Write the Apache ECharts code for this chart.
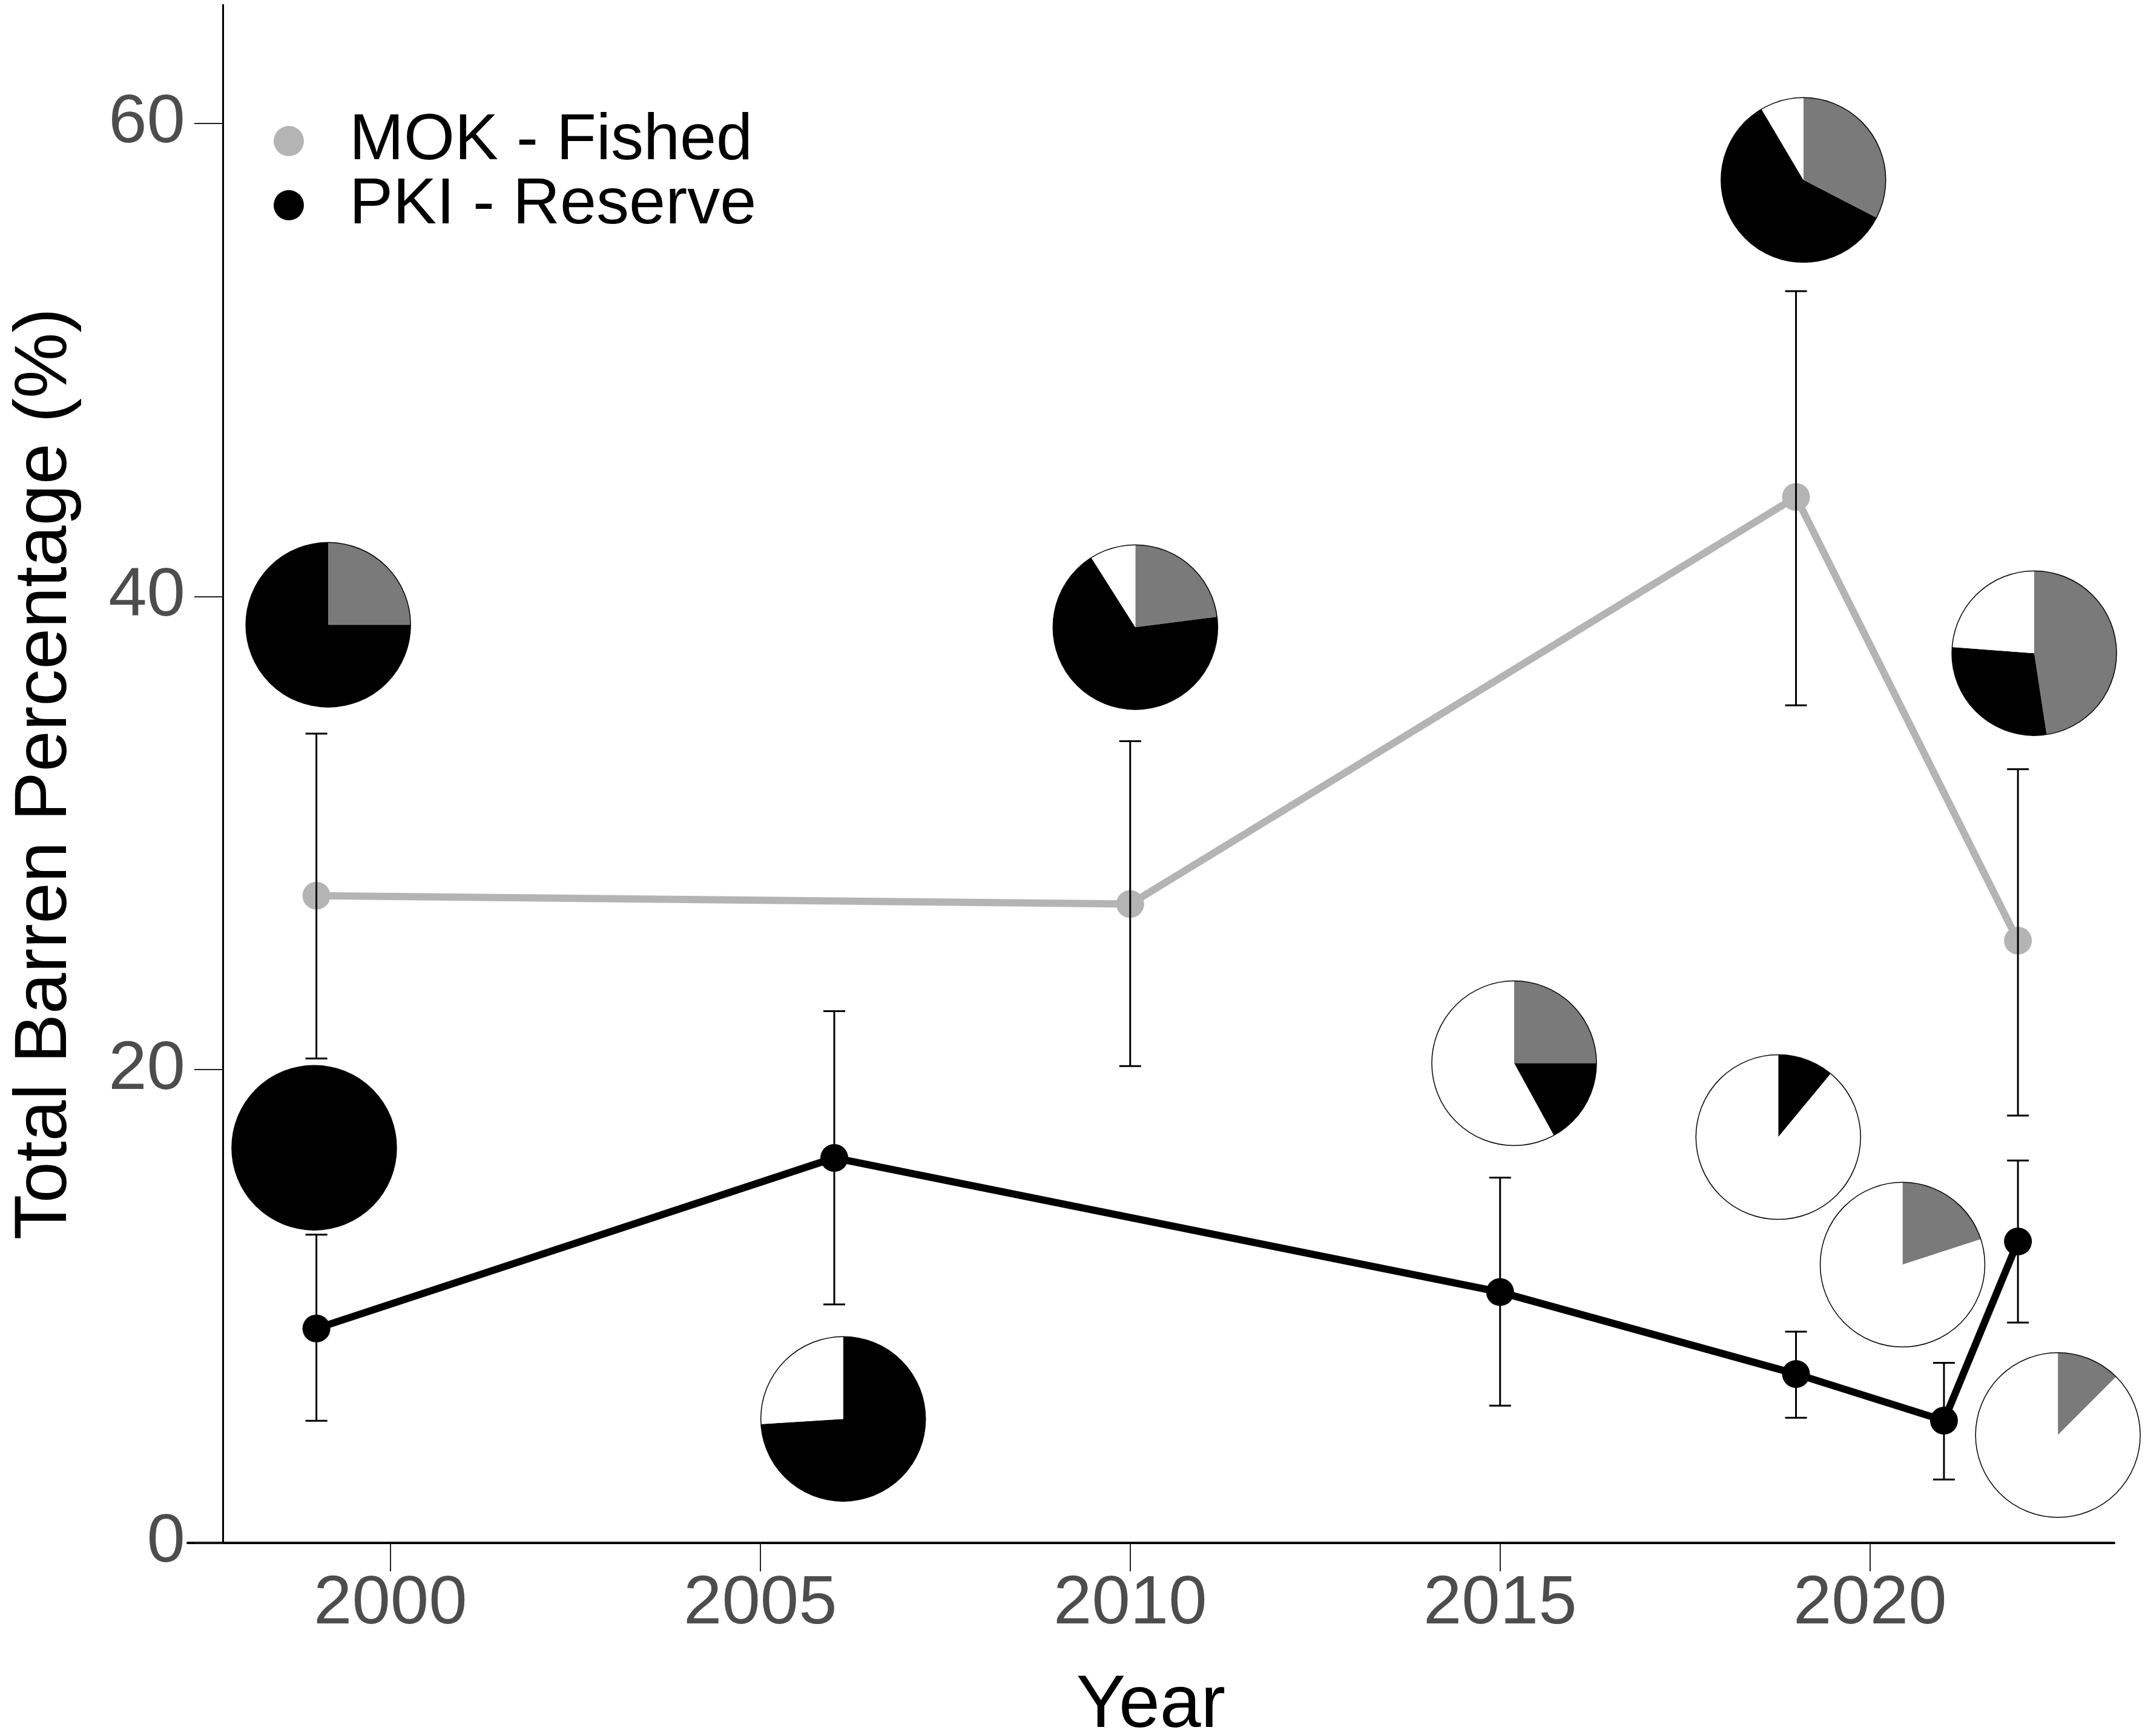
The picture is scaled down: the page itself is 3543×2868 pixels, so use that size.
<!DOCTYPE html>
<html lang="en">
<head>
    <meta charset="UTF-8">
    <title>Total Barren Percentage</title>
    <style>
        body {
            margin: 0;
            background: #fff;
        }
        #chart {
            width: 3543px;
            height: 2868px;
        }
    </style>
</head>
<body>
    <div id="chart"></div>
    <script src="https://cdn.jsdelivr.net/npm/echarts@6/dist/echarts.min.js"></script>
    <script>
        // line points (year, mean) and their error bars
        const mokYears = [1999, 2010, 2019, 2022];
        const mokMean = [27.35, 27.0, 44.2, 25.45];
        const mokLow = [20.47, 20.15, 35.4, 18.06];
        const mokHigh = [34.2, 33.88, 52.9, 32.7];

        const pkiYears = [1999, 2006, 2015, 2019, 2021, 2022];
        const pkiMean = [9.06, 16.27, 10.6, 7.14, 5.17, 12.74];
        const pkiLow = [5.16, 10.08, 5.8, 5.29, 2.68, 9.31];
        const pkiHigh = [13.03, 22.47, 15.44, 8.93, 7.61, 16.16];

        // pie glyphs: where they sit and their shares (gray / black / white, %)
        const pieYear = [1999.16, 1998.97, 2006.12, 2010.07, 2015.19, 2019.10, 2018.76, 2020.44, 2022.22, 2022.54];
        const pieValue = [38.8, 16.7, 5.24, 38.7, 20.27, 57.6, 17.15, 11.76, 37.6, 4.56];
        const pieGray = [25, 0, 0, 23, 25, 32.6, 0, 20, 47.6, 12.5];
        const pieBlack = [75, 100, 74, 68, 17, 58.9, 11, 0, 28.6, 0];
        const pieWhite = [0, 0, 26, 9, 58, 8.5, 89, 80, 23.8, 87.5];

        const xTicks = [2000, 2005, 2010, 2015, 2020];
        const yTicks = [0, 20, 40, 60];

        const FONT = "'Liberation Sans', Arial, sans-serif";
        const MOK_COLOR = '#b4b4b4';
        const PIE_GRAY = '#7a7a7a';
        const PIE_R = 136;

        function renderErr(params, api) {
            const x = api.value(0);
            const lo = api.coord([x, api.value(1)]);
            const hi = api.coord([x, api.value(2)]);
            const w = 18;
            const st = { stroke: '#000', lineWidth: 3 };
            return {
                type: 'group',
                children: [
                    { type: 'line', shape: { x1: lo[0], y1: lo[1], x2: hi[0], y2: hi[1] }, style: st },
                    { type: 'line', shape: { x1: lo[0] - w, y1: lo[1], x2: lo[0] + w, y2: lo[1] }, style: st },
                    { type: 'line', shape: { x1: hi[0] - w, y1: hi[1], x2: hi[0] + w, y2: hi[1] }, style: st },
                ],
            };
        }

        function renderPie(params, api) {
            const c = api.coord([api.value(0), api.value(1)]);
            const shares = [api.value(2), api.value(3), api.value(4)];
            const colors = [PIE_GRAY, '#000', '#fff'];
            const total = shares[0] + shares[1] + shares[2];
            const children = [];
            let acc = 0;
            shares.forEach((s, i) => {
                if (s <= 0) return;
                const a0 = -Math.PI / 2 + 2 * Math.PI * acc / total;
                acc += s;
                const a1 = -Math.PI / 2 + 2 * Math.PI * acc / total;
                children.push({
                    type: 'sector',
                    shape: { cx: c[0], cy: c[1], r: PIE_R, r0: 0, startAngle: a0, endAngle: a1, clockwise: true },
                    style: { fill: colors[i] },
                });
            });
            children.push({
                type: 'circle',
                shape: { cx: c[0], cy: c[1], r: PIE_R },
                style: { fill: 'none', stroke: '#000', lineWidth: 1.5 },
            });
            return { type: 'group', children };
        }

        const chart = echarts.init(document.getElementById('chart'));
        chart.setOption({
            animation: false,
            backgroundColor: '#fff',
            textStyle: { fontFamily: FONT },
            grid: { left: 310, right: 51, top: 8, bottom: 319, outerBoundsMode: 'none', containLabel: false },
            legend: {
                orient: 'vertical',
                left: 447,
                top: 174,
                icon: 'circle',
                itemWidth: 190,
                itemHeight: 50,
                itemGap: -2,
                textStyle: { fontSize: 108, color: '#000', fontFamily: FONT, lineHeight: 60 },
                data: ['MOK - Fished', 'PKI - Reserve'],
            },
            xAxis: {
                type: 'value',
                min: 1997.26,
                max: 2023.3,
                name: 'Year',
                nameLocation: 'middle',
                nameGap: 209,
                nameTextStyle: { fontSize: 122, color: '#000', fontFamily: FONT },
                axisLine: { lineStyle: { color: '#000', width: 4 } },
                axisTick: { show: true, length: 47, customValues: xTicks, lineStyle: { color: '#222', width: 2 } },
                axisLabel: {
                    customValues: xTicks,
                    formatter: v => String(v),
                    fontSize: 114,
                    color: '#4d4d4d',
                    margin: 45,
                    fontFamily: FONT,
                },
                splitLine: { show: false },
            },
            yAxis: {
                type: 'value',
                min: 0,
                max: 65,
                offset: -58,
                name: 'Total Barren Percentage (%)',
                nameLocation: 'middle',
                nameGap: 232,
                nameTextStyle: { fontSize: 122, color: '#000', fontFamily: FONT },
                axisLine: { show: true, lineStyle: { color: '#000', width: 3 } },
                axisTick: { show: true, length: 47, customValues: yTicks, lineStyle: { color: '#222', width: 2 } },
                axisLabel: { customValues: yTicks, fontSize: 114, color: '#4d4d4d', margin: 62, fontFamily: FONT },
                splitLine: { show: false },
            },
            series: [
                {
                    name: 'MOK - Fished',
                    type: 'line',
                    data: mokYears.map((y, i) => [y, mokMean[i]]),
                    symbol: 'circle',
                    symbolSize: 46,
                    itemStyle: { color: MOK_COLOR },
                    lineStyle: { color: MOK_COLOR, width: 12 },
                    z: 2,
                },
                {
                    name: 'PKI - Reserve',
                    type: 'line',
                    data: pkiYears.map((y, i) => [y, pkiMean[i]]),
                    symbol: 'circle',
                    symbolSize: 46,
                    itemStyle: { color: '#000' },
                    lineStyle: { color: '#000', width: 12 },
                    z: 2,
                },
                {
                    type: 'custom',
                    renderItem: renderErr,
                    encode: { x: 0, y: [1, 2] },
                    data: mokYears.map((y, i) => [y, mokLow[i], mokHigh[i]]),
                    z: 3,
                },
                {
                    type: 'custom',
                    renderItem: renderErr,
                    encode: { x: 0, y: [1, 2] },
                    data: pkiYears.map((y, i) => [y, pkiLow[i], pkiHigh[i]]),
                    z: 3,
                },
                {
                    type: 'custom',
                    renderItem: renderPie,
                    encode: { x: 0, y: 1 },
                    data: pieYear.map((y, i) => [y, pieValue[i], pieGray[i], pieBlack[i], pieWhite[i]]),
                    z: 4,
                },
            ],
        });
    </script>
</body>
</html>
